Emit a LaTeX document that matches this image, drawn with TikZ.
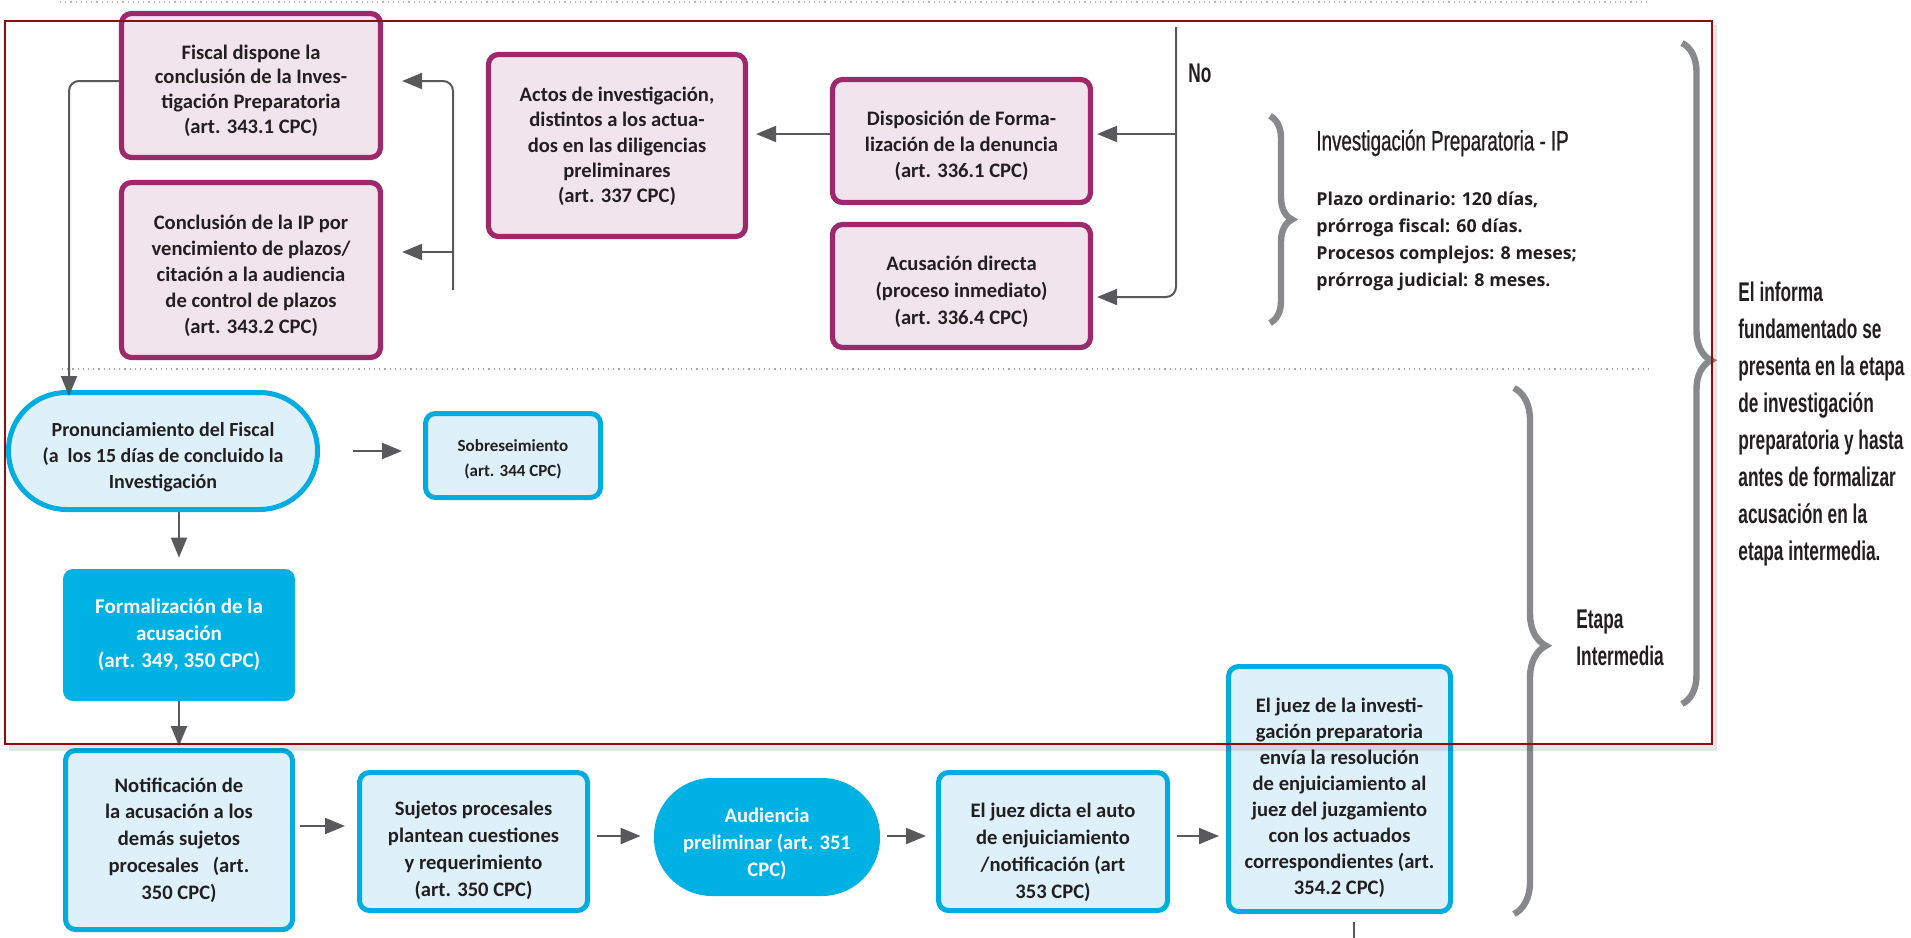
\documentclass[tikz,border=0pt]{standalone}
\usepackage{fontspec}
\setmainfont{Carlito}
\newfontfamily\condfont[FakeStretch=0.64]{Liberation Sans}
\newfontfamily\titlefont[FakeStretch=0.67,FakeBold=0.7]{Liberation Sans}
\newfontfamily\osans{Open Sans}
\usetikzlibrary{arrows.meta,decorations.pathreplacing,calc}
\definecolor{magB}{RGB}{158,40,108}
\definecolor{pinkF}{RGB}{242,228,236}
\definecolor{cyanB}{RGB}{0,172,224}
\definecolor{blueF}{RGB}{222,241,250}
\definecolor{cyanF}{RGB}{0,178,228}
\definecolor{arrG}{RGB}{89,89,91}
\definecolor{braceG}{RGB}{136,137,141}
\definecolor{frameR}{RGB}{145,12,16}
\definecolor{txt}{RGB}{35,31,32}
\tikzset{
  magbox/.style={draw=magB, line width=2.6pt, fill=pinkF, rounded corners=5pt, inner sep=0pt},
  bluebox/.style={draw=cyanB, line width=2.5pt, fill=blueF, rounded corners=5pt, inner sep=0pt},
  darkbox/.style={fill=cyanF, rounded corners=5pt, inner sep=0pt},
  boxtxt/.style={align=center, text=txt, inner sep=0pt, font=\fontsize{10.3}{13}\selectfont\bfseries},
  arr/.style={draw=arrG, line width=1pt, -{Triangle[length=10pt,width=8pt]}},
  ln/.style={draw=arrG, line width=1pt},
  bracestyle/.style={draw=braceG, line width=3.2pt, decorate},
  condtext/.style={font=\condfont\bfseries\fontsize{13.5}{18.5}\selectfont, text=txt, inner sep=0pt}
}
\begin{document}
\begin{tikzpicture}[x=0.5pt,y=-0.5pt]
\useasboundingbox (0,0) rectangle (1911,937);
\fill[white] (0,0) rectangle (1911,937);

% dotted separators
\draw[gray!55, line width=0.6pt, dotted] (60,2) -- (1647,2);
\draw[gray!70, line width=0.6pt, dotted] (62,369) -- (1651,369);

% magenta boxes
\node[magbox, minimum width=129.5pt, minimum height=72pt] (fiscal) at (251,85.5) {};
\node[boxtxt, font=\fontsize{10.3}{12.3}\selectfont\bfseries] (fiscal-t) at ([yshift=-2.5pt]fiscal.center)
  {Fiscal dispone la\\conclusión de la Inves-\\tigación Preparatoria\\(art. 343.1 CPC)};
\node[magbox, minimum width=129.5pt, minimum height=87.5pt] (concl) at (251,270) {};
\node[boxtxt] (concl-t) at ([yshift=-3pt]concl.center)
  {Conclusión de la IP por\\vencimiento de plazos/\\citación a la audiencia\\de control de plazos\\(art. 343.2 CPC)};
\node[magbox, minimum width=128.5pt, minimum height=91pt] (actos) at (617,145.5) {};
\node[boxtxt, font=\fontsize{10.3}{12.6}\selectfont\bfseries] (actos-t) at ([yshift=-0.5pt]actos.center)
  {Actos de investigación,\\distintos a los actua-\\dos en las diligencias\\preliminares\\(art. 337 CPC)};
\node[magbox, minimum width=129pt, minimum height=61.5pt] (dispo) at (961.5,141) {};
\node[boxtxt] (dispo-t) at ([yshift=-2.5pt]dispo.center)
  {Disposición de Forma-\\lización de la denuncia\\(art. 336.1 CPC)};
\node[magbox, minimum width=129pt, minimum height=61.5pt] (acus) at (961.5,286) {};
\node[boxtxt, font=\fontsize{10.3}{13.4}\selectfont\bfseries] (acus-t) at ([yshift=-3pt]acus.center)
  {Acusación directa\\(proceso inmediato)\\(art. 336.4 CPC)};

% blue boxes
\node[bluebox, minimum width=154.5pt, minimum height=58.5pt, rounded corners=29pt] (pron) at (163,451) {};
\node[boxtxt, font=\fontsize{10}{13}\selectfont\bfseries] (pron-t) at ([yshift=-3pt]pron.center)
  {Pronunciamiento del Fiscal\\(a\ \ los 15 días de concluido la\\Investigación};
\node[bluebox, minimum width=87.5pt, minimum height=42pt] (sobre) at (513,455.5) {};
\node[boxtxt, font=\fontsize{8.5}{12.5}\selectfont\bfseries] (sobre-t) at ([yshift=-1.75pt]sobre.center)
  {Sobreseimiento\\(art. 344 CPC)};
\node[darkbox, minimum width=116pt, minimum height=66pt] (formal) at (179,635) {};
\node[boxtxt, text=white, font=\fontsize{10.5}{13.5}\selectfont\bfseries] (formal-t) at (formal.center)
  {Formalización de la\\acusación\\(art. 349, 350 CPC)};
\node[bluebox, minimum width=113.5pt, minimum height=89.5pt] (notif) at (179,840) {};
\node[boxtxt, font=\fontsize{10.3}{13.4}\selectfont\bfseries] (notif-t) at (notif.center)
  {Notificación de\\la acusación a los\\demás sujetos\\procesales\ \ \ (art.\\350 CPC)};
\node[bluebox, minimum width=114pt, minimum height=69pt] (sujetos) at (473.5,841.5) {};
\node[boxtxt, font=\fontsize{10.3}{13.6}\selectfont\bfseries] (sujetos-t) at ([yshift=-4.5pt]sujetos.center)
  {Sujetos procesales\\plantean cuestiones\\y requerimiento\\(art. 350 CPC)};
\node[darkbox, minimum width=113pt, minimum height=59pt, rounded corners=29pt] (aud) at (767,837) {};
\node[boxtxt, text=white, font=\fontsize{10.3}{13.4}\selectfont\bfseries] (aud-t) at ([yshift=-3.5pt]aud.center)
  {Audiencia\\preliminar (art. 351\\CPC)};
\node[bluebox, minimum width=114.5pt, minimum height=69pt] (juez1) at (1053,841.5) {};
\node[boxtxt, font=\fontsize{10.3}{13.6}\selectfont\bfseries] (juez1-t) at ([yshift=-5.5pt]juez1.center)
  {El juez dicta el auto\\de enjuiciamiento\\/notificación (art\\353 CPC)};
\node[bluebox, minimum width=111pt, minimum height=122.5pt] (juez2) at (1339.5,789) {};
\node[boxtxt] (juez2-t) at ([yshift=-4.5pt]juez2.center)
  {El juez de la investi-\\gación preparatoria\\envía la resolución\\de enjuiciamiento al\\juez del juzgamiento\\con los actuados\\correspondientes (art.\\354.2 CPC)};

% connectors, top area
\coordinate (top) at (1176,27);
\path ([yshift=3.5pt]dispo.east) coordinate (dE);
\path ([yshift=-5.5pt]acus.east) coordinate (aE);
\draw[arr, rounded corners=5pt, shorten >=2pt] (top) |- (aE);
\draw[arr, shorten >=2pt] (top |- dE) -- (dE);
\path ([yshift=3.5pt]dispo.west) coordinate (dW);
\draw[arr, shorten >=4pt] (dW) -- (dW -| actos.east);
\coordinate (vb) at (453,290);
\path ([yshift=2.25pt]fiscal.east) coordinate (fE);
\path ([yshift=9pt]concl.east) coordinate (cE);
\draw[arr, rounded corners=5pt, shorten >=9.5pt] (vb) |- (fE);
\draw[arr, shorten >=9.5pt] (vb |- cE) -- (cE);
\path ([yshift=2.25pt]fiscal.west) coordinate (fW);
\coordinate (pIn) at ($(pron.north west)+(63,6)$);
\draw[arr, rounded corners=5pt] (fW) -| (pIn);

% connectors, lower area
\draw[arr, shorten <=16.5pt, shorten >=10.5pt] (pron.east) -- (pron.east -| sobre.west);
\draw[arr, shorten >=5.5pt] (pron.south -| formal.north) -- (formal.north);
\draw[arr, shorten >=1pt] (formal.south) -- (notif.north);
\path ([yshift=7pt]notif.east) coordinate (nE);
\draw[arr, shorten <=2.5pt, shorten >=6pt] (nE) -- (nE -| sujetos.west);
\path ([yshift=2.75pt]sujetos.east) coordinate (sE);
\draw[arr, shorten <=3.5pt, shorten >=6.5pt] (sE) -- (sE -| aud.west);
\path ([yshift=2.75pt]juez1.west) coordinate (j1W);
\draw[arr, shorten <=3.5pt, shorten >=5pt] (j1W -| aud.east) -- (j1W);
\path ([yshift=2.75pt]juez1.east) coordinate (j1E);
\draw[arr, shorten <=3.5pt, shorten >=3.5pt] (j1E) -- (j1E -| juez2.west);
\path ([xshift=7.25pt,yshift=-4pt]juez2.south) coordinate (jB);
\coordinate (jEnd) at (1354,940);
\draw[ln, line width=0.9pt] (jB) -- (jEnd);

% labels
\node[condtext, anchor=west] (no) at (1188,73) {No};
\node[anchor=west, inner sep=0pt, text=txt, font=\titlefont\fontsize{14}{16}\selectfont] (ttl) at (1316,143)
  {Investigación Preparatoria - IP};
\node[anchor=west, align=left, inner sep=0pt, text=txt,
  font=\osans\bfseries\fontsize{8.9}{13.5}\selectfont] (plazo) at (1316,241)
  {Plazo ordinario: 120 días,\\prórroga fiscal: 60 días.\\Procesos complejos: 8 meses;\\prórroga judicial: 8 meses.};
\node[condtext, anchor=west, align=left] (etapa) at (1576,638) {Etapa\\Intermedia};
\node[condtext, anchor=west, align=left] (inf) at (1738,424)
  {El informa\\fundamentado se\\presenta en la etapa\\de investigación\\preparatoria y hasta\\antes de formalizar\\acusación en la\\etapa intermedia.};

% braces
\draw[bracestyle, decoration={brace, amplitude=11pt, aspect=0.5}] (1270,116) -- (1270,323);
\draw[bracestyle, decoration={brace, amplitude=16pt, aspect=0.49}] (1514,388) -- (1514,914);
\draw[bracestyle, decoration={brace, amplitude=14.5pt, aspect=0.48}] (1682,43) -- (1682,704);

% red frame with shadow
\fill[black, opacity=0.10] (9,745) rectangle (1717,751);
\fill[black, opacity=0.10] (1713,25) rectangle (1717,745);
\draw[frameR, line width=1.1pt] (5,21) rectangle (1712,744);
\end{tikzpicture}
\end{document}
